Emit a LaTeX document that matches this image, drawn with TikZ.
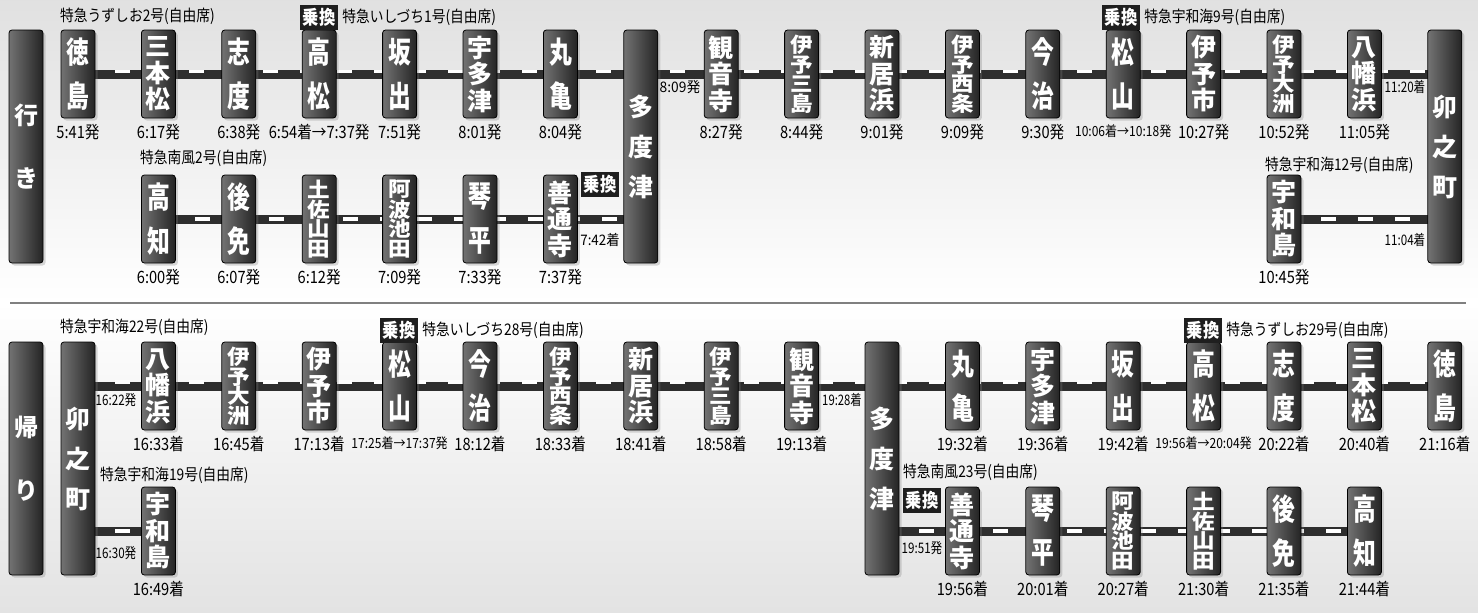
\documentclass[tikz,border=0pt]{standalone}
\usepackage{fontspec}
\usepackage{graphicx}
\setmainfont{Noto Sans CJK JP}
\newfontfamily\condFont[FakeStretch=0.86]{Noto Sans CJK JP}
\newfontfamily\stnTall[FakeStretch=0.76]{Noto Sans CJK JP}
\newfontfamily\stnWide[FakeStretch=1.1]{Noto Sans CJK JP}
\usetikzlibrary{positioning,shadows}
\pgfdeclarelayer{background}
\pgfsetlayers{background,main}

\newcommand{\narrow}[2]{\scalebox{#1}[1]{#2}}
\newcommand{\longtm}[1]{{\fontsize{14}{14}\selectfont #1}}

\tikzset{
  stnbox/.style={rectangle, rounded corners=3pt, draw=black, line width=0.8pt,
    left color=black!55, right color=black!86, text=white, inner sep=0pt,
    minimum width=34pt, minimum height=88pt, align=center,
    drop shadow={shadow xshift=2.5pt, shadow yshift=-2.5pt, opacity=0.3}},
  two/.style={stnbox, font=\stnTall\fontsize{30}{44}\selectfont\bfseries},
  three/.style={stnbox, font=\fontsize{25}{26.5}\selectfont\bfseries},
  four/.style={stnbox, font=\stnWide\fontsize{20.5}{19.5}\selectfont\bfseries},
  bigtwo/.style={stnbox, minimum height=233pt, font=\fontsize{24}{63}\selectfont\bfseries},
  bigthree/.style={stnbox, minimum height=233pt, font=\fontsize{25}{40}\selectfont\bfseries},
  xfer/.style={fill=black!88, text=white, inner sep=0pt, minimum width=38pt,
    minimum height=25pt, font=\condFont\fontsize{19}{19}\selectfont\bfseries},
  train/.style={anchor=west, inner sep=0pt, font=\condFont\fontsize{16}{16}\selectfont},
  tm/.style={inner sep=1pt, font=\condFont\fontsize{17}{17}\selectfont},
  tmsmall/.style={inner sep=0pt, font=\fontsize{14.5}{14.5}\selectfont},
  rail/.style={white, line width=3.5pt, dash pattern=on 15pt off 22pt,
    preaction={draw=black!82, line width=9pt, solid}},
}

\begin{document}
\begin{tikzpicture}[x=1pt, y=-1pt]
  \useasboundingbox (0,0) rectangle (1478,613);

  % background and divider
  \begin{pgfonlayer}{background}
    \shade[top color=black!12, bottom color=white] (0,0) rectangle (1478,302);
    \shade[top color=white, bottom color=black!11] (0,302) rectangle (1478,613);
  \end{pgfonlayer}
  \draw[black!50, line width=2.5pt] (10,303) -- (1466,303);

  %%% outbound
  \node[bigtwo] (goLabel) at (26,146.5) {行\\き};
  \node[bigthree] (tadotsu) at ({78+80.4*7},146.5) {多\\度\\津};
  \node[bigthree] (unomachi) at ({78+80.4*17},146.5) {卯\\之\\町};

  % main line stations with times
  \foreach \nm/\i/\sty/\lbl/\tim in {
    tokushima/0/two/{徳\\島}/{5:41発},
    sanbon/1/three/{三\\本\\松}/{6:17発},
    shido/2/two/{志\\度}/{6:38発},
    takamatsu/3/two/{高\\松}/{6:54着→7:37発},
    sakaide/4/two/{坂\\出}/{7:51発},
    utazu/5/three/{宇\\多\\津}/{8:01発},
    marugame/6/two/{丸\\亀}/{8:04発},
    kanonji/8/three/{観\\音\\寺}/{8:27発},
    mishima/9/four/{伊\\予\\三\\島}/{8:44発},
    niihama/10/three/{新\\居\\浜}/{9:01発},
    saijo/11/four/{伊\\予\\西\\条}/{9:09発},
    imabari/12/two/{今\\治}/{9:30発},
    matsuyama/13/two/{松\\山}/{\longtm{10:06着→10:18発}},
    iyoshi/14/three/{伊\\予\\市}/{10:27発},
    ozu/15/four/{伊\\予\\大\\洲}/{10:52発},
    yawata/16/three/{八\\幡\\浜}/{11:05発}} {
    \node[\sty] (\nm) at ({78+80.4*\i},74) {\lbl};
    \node[tm, below=5pt of \nm] (t\nm) {\tim};
  }

  % dosan line and yodo branch
  \foreach \nm/\i/\sty/\lbl/\tim in {
    kochi/1/two/{高\\知}/{6:00発},
    gomen/2/two/{後\\免}/{6:07発},
    yamada/3/four/{土\\佐\\山\\田}/{6:12発},
    ikeda/4/four/{阿\\波\\池\\田}/{7:09発},
    kotohira/5/two/{琴\\平}/{7:33発},
    zentsuji/6/three/{善\\通\\寺}/{7:37発},
    uwajima/15/three/{宇\\和\\島}/{10:45発}} {
    \node[\sty] (\nm) at ({78+80.4*\i},219) {\lbl};
    \node[tm, below=5pt of \nm] (t\nm) {\tim};
  }

  \node[train] (trainA) at (60,16) {特急うずしお2号(自由席)};
  \node[xfer] (xferA) at (319,17.5) {乗換};
  \node[train, right=4pt of xferA] (trainB) {特急いしづち1号(自由席)};
  \node[train] (trainC) at (140,158) {特急南風2号(自由席)};
  \node[xfer] (xferB) at (600,184) {乗換};
  \node[tmsmall] (arrTadotsu) at (600,240) {\narrow{0.92}{7:42着}};
  \node[tmsmall] (depTadotsu) at (680,87) {\narrow{0.95}{8:09発}};
  \node[xfer] (xferC) at (1121,17.5) {乗換};
  \node[train, right=4pt of xferC] (trainD) {特急宇和海9号(自由席)};
  \node[tmsmall] (arrUnoA) at (1405,87) {\narrow{0.8}{11:20着}};
  \node[train] (trainE) at (1265,165) {特急宇和海12号(自由席)};
  \node[tmsmall] (arrUnoB) at (1405,240) {\narrow{0.8}{11:04着}};

  %%% return
  \node[bigtwo] (backLabel) at (26,458.5) {帰\\り};
  \node[bigthree] (bunomachi) at (78,458.5) {卯\\之\\町};
  \node[bigthree] (btadotsu) at ({78+80.4*10},458.5) {多\\度\\津};

  \foreach \nm/\i/\sty/\lbl/\tim in {
    byawata/1/three/{八\\幡\\浜}/{16:33着},
    bozu/2/four/{伊\\予\\大\\洲}/{16:45着},
    biyoshi/3/three/{伊\\予\\市}/{17:13着},
    bmatsuyama/4/two/{松\\山}/{\longtm{17:25着→17:37発}},
    bimabari/5/two/{今\\治}/{18:12着},
    bsaijo/6/four/{伊\\予\\西\\条}/{18:33着},
    bniihama/7/three/{新\\居\\浜}/{18:41着},
    bmishima/8/four/{伊\\予\\三\\島}/{18:58着},
    bkanonji/9/three/{観\\音\\寺}/{19:13着},
    bmarugame/11/two/{丸\\亀}/{19:32着},
    butazu/12/three/{宇\\多\\津}/{19:36着},
    bsakaide/13/two/{坂\\出}/{19:42着},
    btakamatsu/14/two/{高\\松}/{\longtm{19:56着→20:04発}},
    bshido/15/two/{志\\度}/{20:22着},
    bsanbon/16/three/{三\\本\\松}/{20:40着},
    btokushima/17/two/{徳\\島}/{21:16着}} {
    \node[\sty] (\nm) at ({78+80.4*\i},386) {\lbl};
    \node[tm, below=5pt of \nm] (t\nm) {\tim};
  }

  \foreach \nm/\i/\sty/\lbl/\tim in {
    buwajima/1/three/{宇\\和\\島}/{16:49着},
    bzentsuji/11/three/{善\\通\\寺}/{19:56着},
    bkotohira/12/two/{琴\\平}/{20:01着},
    bikeda/13/four/{阿\\波\\池\\田}/{20:27着},
    byamada/14/four/{土\\佐\\山\\田}/{21:30着},
    bgomen/15/two/{後\\免}/{21:35着},
    bkochi/16/two/{高\\知}/{21:44着}} {
    \node[\sty] (\nm) at ({78+80.4*\i},531) {\lbl};
    \node[tm, below=5pt of \nm] (t\nm) {\tim};
  }

  \node[train] (trainF) at (60,327) {特急宇和海22号(自由席)};
  \node[tmsmall] (depUnoA) at (116,400) {\narrow{0.8}{16:22発}};
  \node[train] (trainG) at (100,475) {特急宇和海19号(自由席)};
  \node[tmsmall] (depUnoB) at (116,553) {\narrow{0.8}{16:30発}};
  \node[xfer] (xferD) at (399,330) {乗換};
  \node[train, right=4pt of xferD] (trainH) {特急いしづち28号(自由席)};
  \node[tmsmall] (arrTadotsuB) at (842,400) {\narrow{0.78}{19:28着}};
  \node[xfer] (xferE) at (1203,330) {乗換};
  \node[train, right=4pt of xferE] (trainI) {特急うずしお29号(自由席)};
  \node[train] (trainJ) at (903,472) {特急南風23号(自由席)};
  \node[xfer] (xferF) at (922,500) {乗換};
  \node[tmsmall] (depTadotsuB) at (922,548) {\narrow{0.8}{19:51発}};

  % rails behind the boxes
  \begin{pgfonlayer}{background}
    \draw[rail, transform canvas={yshift=2.5pt}] (tokushima.center)
      \foreach \n in {sanbon,shido,takamatsu,sakaide,utazu,marugame,kanonji,
        mishima,niihama,saijo,imabari,matsuyama,iyoshi,ozu,yawata} {-- (\n.center)}
      -- (yawata.center -| unomachi.center);
    \draw[rail] (kochi.center)
      \foreach \n in {gomen,yamada,ikeda,kotohira,zentsuji} {-- (\n.center)}
      -- (zentsuji.center -| tadotsu.center);
    \draw[rail] (uwajima.center) -- (uwajima.center -| unomachi.center);

    \draw[rail, transform canvas={yshift=4pt}] (byawata.center -| bunomachi.center)
      \foreach \n in {byawata,bozu,biyoshi,bmatsuyama,bimabari,bsaijo,bniihama,
        bmishima,bkanonji,bmarugame,butazu,bsakaide,btakamatsu,bshido,bsanbon,
        btokushima} {-- (\n.center)};
    \draw[rail] (buwajima.center -| bunomachi.center) -- (buwajima.center);
    \draw[rail] (bzentsuji.center -| btadotsu.center)
      \foreach \n in {bzentsuji,bkotohira,bikeda,byamada,bgomen,bkochi} {-- (\n.center)};
  \end{pgfonlayer}
\end{tikzpicture}
\end{document}
